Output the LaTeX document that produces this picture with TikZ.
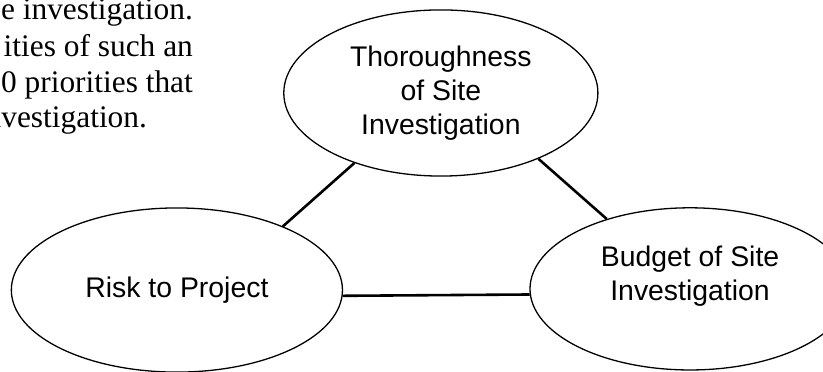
\documentclass[tikz,border=0pt]{standalone}
\usepackage{fontspec}
\setmainfont{Liberation Serif}
\setsansfont{Liberation Sans}
\usetikzlibrary{shapes.geometric}

\tikzset{
  factor/.style={draw, ellipse, line width=1.3pt, align=center,
    font=\sffamily\fontsize{28.5}{34}\selectfont, inner sep=0pt},
  tie/.style={line width=2.6pt},
  prose/.style={anchor=base east, inner sep=0pt,
    font=\rmfamily\fontsize{31.5}{36}\selectfont}
}

\begin{document}
\begin{tikzpicture}
    \useasboundingbox (0,0) rectangle (29.03,13.12);

    % cut-off paragraph text
    \node[prose] (line1) at (6.81,12.42) {e investigation.};
    \node[prose] (line2) at (6.81,11.11) {ities of such an};
    \node[prose] (line3) at (6.81,9.84) {0 priorities that};
    \node[prose] (line4) at (5.19,8.61) {investigation.};

    % the three factors
    \node[factor, minimum width=11.08cm, minimum height=5.86cm] (thor) at (15.55,9.84)
        {Thoroughness\\of Site\\Investigation};
    \node[factor, minimum width=11.68cm, minimum height=5.79cm] (risk) at (6.24,2.89)
        {Risk to Project};
    \node[factor, minimum width=11.29cm, minimum height=5.72cm, text depth=31pt] (budget) at (24.34,2.93)
        {Budget of Site\\Investigation};

    \draw[tie] (risk.31) -- (thor.219);
    \draw[tie] (thor.326) -- (budget.140);
    \draw[tie] (risk.-2) -- (budget.182);
\end{tikzpicture}
\end{document}
